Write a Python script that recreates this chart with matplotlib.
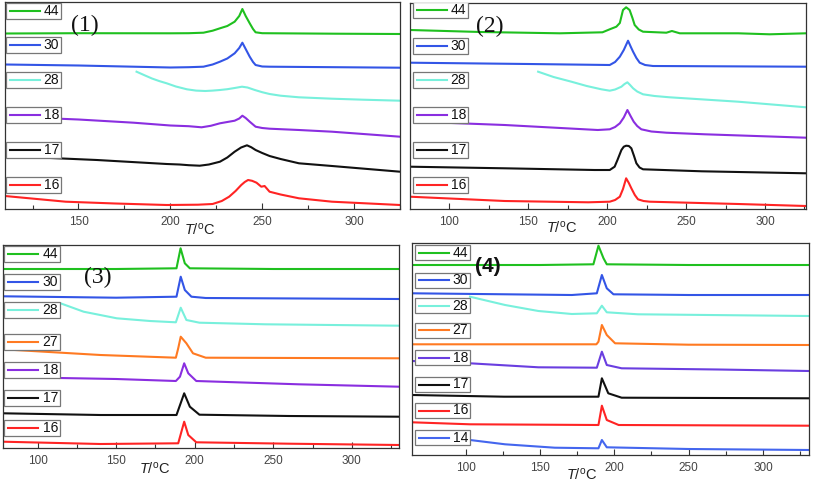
import matplotlib
matplotlib.use("Agg")
import matplotlib.pyplot as plt
from matplotlib.patches import Rectangle

# ---------------- data (signal in arbitrary units vs T / °C) ----------------
P1_LABELS = ["44", "30", "28", "18", "17", "16"]
P1_COLORS = ["#1fc01f", "#3355e6", "#78f0dc", "#8a2ee0", "#111111", "#ff2424"]
P1_T = [
    [110, 150, 200, 210, 218, 223, 227, 231, 235, 237.5, 239.2, 241, 243.2, 245, 246.4, 250, 290, 325],
    [110, 150, 200, 210, 218, 223, 227, 231, 235, 237.5, 239.2, 241, 243.2, 245, 246.4, 250, 254, 290, 325],
    [181.6, 186, 190, 194, 198, 203, 209, 214, 219, 223, 227, 231, 235, 239, 242, 246, 250, 254, 260, 270, 288, 305, 325],
    [110, 150, 180, 200, 210, 217, 222, 227, 231, 235, 237.5, 239.2, 241, 243.2, 246.4, 250, 254, 270, 288, 325],
    [110, 160, 198, 205, 210, 216, 221, 227, 231, 235, 238.5, 241.7, 244, 246.4, 250, 254, 260, 270, 288, 325],
    [110, 143, 170, 198, 215, 223, 228, 232, 235.5, 238.6, 240.5, 242.3, 244.5, 246.9, 249.5, 251.3, 254, 260, 270, 288, 325],
]
P1_V = [
    [175.5, 175.8, 175.7, 175.8, 176.3, 178.3, 180.7, 183, 187.3, 193, 200, 193, 185.7, 180, 176.7, 175.8, 175.3, 175],
    [144.5, 143.5, 141.5, 141.8, 142.3, 144.5, 147.3, 150.5, 155.7, 161, 166.3, 160, 152.3, 147, 144, 142.5, 142.3, 141.8, 141.3],
    [137.3, 133.7, 130.5, 127.9, 125.7, 122.5, 119.7, 118.4, 118, 118.4, 119, 119.8, 121, 122.3, 121.5, 119, 116.8, 115, 113.3, 111.7, 110.3, 109.3, 108.3],
    [92.5, 89.5, 86.3, 83.5, 82.8, 81.7, 83.2, 85.7, 87, 88.3, 90.5, 93.3, 91, 87.3, 82.3, 81, 80.3, 79, 77.3, 72.3],
    [53, 49, 45, 44.5, 43.8, 43.3, 44.5, 47.3, 51.5, 57.3, 61.5, 63.7, 61.8, 59, 56, 53, 50, 45.7, 43, 37.3],
    [13, 7.3, 5.5, 4, 4.3, 5, 8, 12.3, 18, 24, 27, 29, 28.2, 26.3, 22.3, 23, 17.3, 14.5, 10.7, 7.3, 4],
]

P2_LABELS = ["44", "30", "28", "18", "17", "16"]
P2_COLORS = P1_COLORS
P2_T = [
    [75, 120, 170, 197, 201.6, 205.8, 208, 210, 212, 214.2, 216, 217.4, 220, 222.7, 237.5, 241, 246, 283, 303, 326],
    [75, 150, 201.6, 205, 208, 210.5, 213.2, 215, 216.4, 218.5, 220.6, 224, 229, 326],
    [156.2, 166, 177.3, 187, 196.3, 201.6, 205, 209, 211, 212.8, 214.5, 216.4, 219, 222.7, 230, 239.6, 283, 326],
    [80, 135, 194, 201.6, 205, 208, 210.5, 212.8, 214.8, 216.8, 219, 221.6, 228, 237.5, 262, 326],
    [75, 135, 192, 201.6, 204.7, 206.5, 209, 210.5, 212, 213.7, 215.3, 217, 218.5, 220.5, 222.7, 260, 326],
    [75, 135, 188, 201.6, 205, 208, 210, 212, 213.7, 215.3, 217.5, 219.5, 223, 227, 283, 326],
]
P2_V = [
    [179, 177, 175.7, 176.7, 179.7, 182.3, 186, 199, 201.7, 199, 191, 184, 179.5, 177.3, 176.3, 178, 175.7, 175.7, 174.7, 175.7],
    [146.3, 145, 144, 147, 152.3, 159, 168.3, 162, 157.3, 151, 146.3, 144, 143, 142.3],
    [137.3, 132, 127.3, 123, 119.7, 118.3, 119.5, 122.3, 125, 126.7, 124, 120.7, 117.5, 114.7, 113, 111.7, 107.3, 101.7],
    [87.3, 84, 79, 79.7, 82, 85.7, 91.5, 99, 93, 87.3, 83, 79.7, 77.5, 76.3, 74.7, 71.3],
    [42.3, 40.7, 39, 39, 42.3, 49, 59, 62.3, 63.3, 63, 60.7, 53, 45.7, 41.5, 39.7, 37.7, 35.7],
    [12.3, 8, 6.7, 7.3, 9, 12.3, 20, 30.7, 26, 20.7, 14, 9.7, 8, 7.3, 5, 3],
]

P3_LABELS = ["44", "30", "28", "27", "18", "17", "16"]
P3_COLORS = ["#1fc01f", "#3355e6", "#78f0dc", "#ff7a22", "#8a2ee0", "#111111", "#ff2424"]
P3_T = [
    [78, 150, 188.4, 191, 193.7, 196.9, 250, 330],
    [78, 150, 188.4, 191.1, 193.7, 197.9, 207, 330],
    [114.6, 129.3, 150.4, 171.5, 188, 191.1, 194.7, 203, 245, 330],
    [78, 140, 188, 189.5, 191.1, 194.7, 198.9, 207, 330],
    [78, 150, 188, 190.6, 193.3, 195.9, 201, 266, 330],
    [78, 140, 188.4, 193.3, 196.9, 203, 260, 330],
    [78, 140, 189.5, 193.3, 195.9, 201, 260, 330],
]
P3_V = [
    [179, 179, 179.7, 199.7, 184.7, 179.7, 179, 179],
    [151.7, 150.3, 151.3, 171.3, 158, 151.3, 150, 149],
    [144.7, 136.3, 129.7, 127, 125.7, 140.3, 128, 125.3, 123.7, 122.3],
    [98.7, 93, 90.3, 99.7, 111.3, 104.7, 94.7, 90.3, 89.7],
    [71, 69, 67, 71.3, 84.7, 74.7, 67, 63.7, 61.3],
    [34.7, 33, 33, 54.7, 41.3, 33.3, 32, 31.3],
    [6.3, 4, 4.7, 26.3, 13, 5.7, 4.3, 3],
]

P4_LABELS = ["44", "30", "28", "27", "18", "17", "16", "14"]
P4_COLORS = ["#1fc01f", "#3355e6", "#78f0dc", "#ff7a22", "#6a3ee0", "#111111", "#ff2424", "#4466ee"]
P4_T = [
    [64, 150, 186, 189.4, 192.8, 195, 250, 331],
    [64, 171.5, 188.3, 191.7, 195, 199.5, 250, 331],
    [103, 126.6, 149, 171.5, 188.3, 191.7, 195, 216, 331],
    [64, 150, 188, 189.4, 191.7, 195, 200.6, 250, 331],
    [64, 103, 149, 188.3, 191.7, 195, 205, 270, 331],
    [64, 126, 189.4, 191.7, 196, 205, 331],
    [64, 103, 189.4, 191.7, 195, 203, 331],
    [103, 126.6, 160, 189.4, 191.7, 195, 250, 331],
]
P4_V = [
    [190, 190, 190.7, 209.3, 196.7, 190.7, 190, 190],
    [161.7, 160, 161.7, 180, 166.7, 160.7, 160, 160],
    [158.3, 150, 144, 141, 141.7, 149.3, 142.7, 140.7, 139],
    [110.7, 110.7, 110.7, 113.3, 130, 120, 111.7, 110.3, 110],
    [94, 91.7, 87.7, 87.3, 103.3, 90, 86.7, 85.5, 84],
    [60, 58.3, 58.3, 76.7, 61.7, 57.3, 56.7],
    [32.7, 30.7, 30, 49.3, 35, 30, 29.3],
    [15, 10.7, 7.3, 6.7, 15, 7.7, 6, 5],
]

XTICKS = [100, 150, 200, 250, 300]

# ---------------- layout ----------------
W, H = 813, 484
plt.rcParams['font.family'] = ['Liberation Sans', 'DejaVu Sans']
plt.rcParams['mathtext.fontset'] = 'custom'
plt.rcParams['mathtext.it'] = 'Liberation Sans:italic'
plt.rcParams['mathtext.rm'] = 'Liberation Sans'
fig = plt.figure(figsize=(W / 100, H / 100), dpi=100)


def rect(l, t, r, b):
    return [l / W, 1 - b / H, (r - l) / W, (b - t) / H]


def panel(box, xlim, labels, colors, Ts, Vs, box_x, box_centers, box_h,
          tag, tag_xy, tag_font, xlabel_px):
    l, t, r, b = box
    ax = fig.add_axes(rect(l, t, r, b))
    ax.set_xlim(*xlim)
    ax.set_ylim(0, b - t)
    for T, V, c in zip(Ts, Vs, colors):
        ax.plot(T, V, color=c, lw=1.5, solid_joinstyle='round')
    ax.set_yticks([])
    ax.set_xticks([x for x in XTICKS if xlim[0] <= x <= xlim[1]])
    ax.set_xticks([x + 25 for x in [75] + XTICKS if xlim[0] <= x + 25 <= xlim[1]], minor=True)
    ax.tick_params(axis='x', which='major', direction='in', length=4, width=0.8,
                   labelsize=8.5, labelcolor='#444444', pad=5, color='#333333')
    ax.tick_params(axis='x', which='minor', direction='in', length=3, width=0.8, color='#333333')
    for s in ax.spines.values():
        s.set_color('#333333')
        s.set_linewidth(0.9)
    ax.set_xlabel('$T$/$^{\\rm o}$C', fontsize=10.5, color='#222222', va='center')
    ax.xaxis.set_label_coords((xlabel_px[0] - l) / (r - l), -(xlabel_px[1] - b) / (b - t))
    aw, ah = r - l, b - t
    for lab, c, cy in zip(labels, colors, box_centers):
        bx0 = (box_x[0] - l) / aw
        bx1 = (box_x[1] - l) / aw
        y0 = (b - cy - box_h / 2) / ah
        hh = box_h / ah
        ax.add_patch(Rectangle((bx0, y0), bx1 - bx0, hh, transform=ax.transAxes,
                               facecolor='white', edgecolor='#777777', lw=0.9, zorder=5))
        ax.plot([bx0 + 4 / aw, bx0 + 34 / aw], [y0 + hh / 2] * 2, transform=ax.transAxes,
                color=c, lw=1.5, zorder=6)
        ax.text(bx1 - 2 / aw, y0 + hh / 2, lab, transform=ax.transAxes, ha='right',
                va='center', fontsize=10, color='#111111', zorder=6)
    ax.text((tag_xy[0] - l) / aw, (b - tag_xy[1]) / ah, tag, transform=ax.transAxes,
            ha='center', va='center', zorder=7, **tag_font)
    return ax


serif = dict(fontsize=17, family='Liberation Serif', color='#111111')
boldsans = dict(fontsize=15, family='Liberation Sans', weight='bold', color='#111111')

panel((5, 2, 400, 209), (110, 325), P1_LABELS, P1_COLORS, P1_T, P1_V,
      (6, 61), [11, 45, 80, 115, 150, 185], 16, '(1)', (85, 25), serif, (200, 230))
panel((410, 3, 806, 209), (75, 326), P2_LABELS, P2_COLORS, P2_T, P2_V,
      (413, 468), [10, 46, 80, 115, 150, 185], 16, '(2)', (490, 26), serif, (562, 228))
panel((3, 245, 399, 448), (78, 330), P3_LABELS, P3_COLORS, P3_T, P3_V,
      (4, 60), [253.5, 281.5, 310, 341.5, 370, 398, 427.5], 16, '(3)', (98, 277), serif, (155, 469))
panel((412, 243, 809, 455), (64, 331), P4_LABELS, P4_COLORS, P4_T, P4_V,
      (415, 470), [252.5, 280, 305.5, 330, 357.5, 384.5, 410.5, 437.5], 15, '(4)', (488, 267), boldsans, (582, 475))

fig.savefig('out.png', dpi=100)
